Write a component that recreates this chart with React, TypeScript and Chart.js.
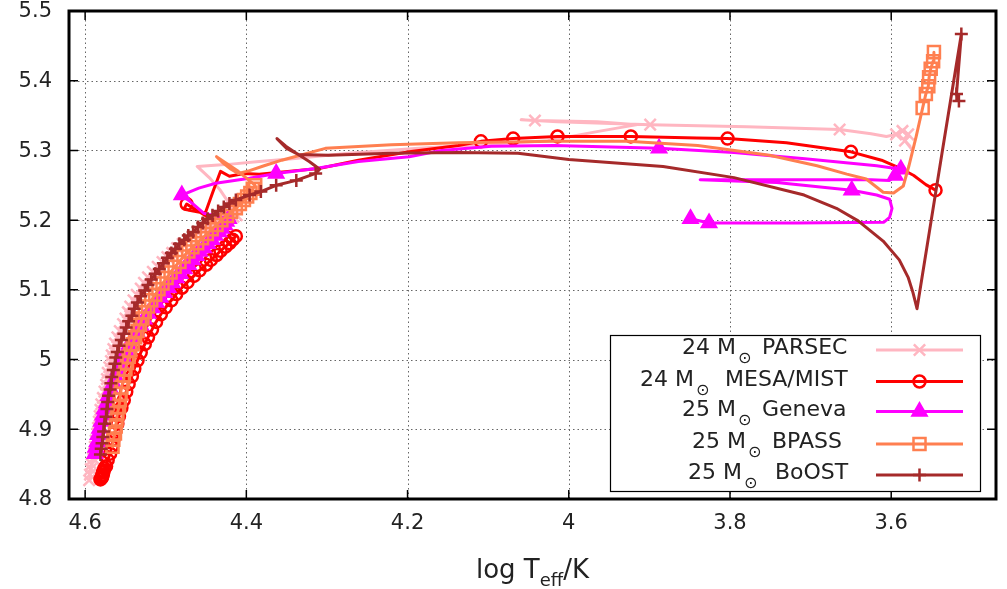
import React, { useEffect, useRef } from "react";
import { Chart, registerables } from "chart.js";

Chart.register(...registerables);

// ---------- data (log Teff / K , log L / Lsun) ----------
const parsecLogT = [4.595, 4.594, 4.593, 4.592, 4.590, 4.589, 4.588, 4.587, 4.585, 4.584, 4.583, 4.582, 4.581, 4.580, 4.578, 4.576, 4.574, 4.573, 4.572, 4.570, 4.568, 4.567, 4.565, 4.563, 4.560, 4.557, 4.553, 4.550, 4.547, 4.544, 4.540, 4.536, 4.531, 4.527, 4.522, 4.516, 4.510, 4.504, 4.498, 4.492, 4.486, 4.479, 4.472, 4.466, 4.459, 4.452, 4.445, 4.439, 4.432, 4.427, 4.421, 4.416, 4.412,
  4.423, 4.433, 4.446, 4.461, 4.422, 4.384, 4.343, 4.273, 4.186, 4.112, 4.026, 3.965, 3.915, 3.965, 4.042, 4.059, 4.014, 3.899, 3.779, 3.664, 3.625, 3.606, 3.594, 3.586, 3.579, 3.583, 3.574];
const parsecLogL = [4.827, 4.835, 4.843, 4.850, 4.858, 4.866, 4.875, 4.884, 4.894, 4.902, 4.911, 4.919, 4.928, 4.936, 4.945, 4.954, 4.964, 4.972, 4.981, 4.989, 4.998, 5.006, 5.015, 5.023, 5.032, 5.041, 5.051, 5.059, 5.068, 5.076, 5.085, 5.093, 5.102, 5.110, 5.118, 5.126, 5.133, 5.140, 5.147, 5.153, 5.160, 5.166, 5.172, 5.177, 5.182, 5.186, 5.190, 5.193, 5.197, 5.200, 5.203, 5.205, 5.207,
  5.227, 5.244, 5.261, 5.277, 5.280, 5.284, 5.288, 5.296, 5.303, 5.308, 5.314, 5.327, 5.337, 5.341, 5.343, 5.344, 5.341, 5.337, 5.334, 5.330, 5.324, 5.320, 5.323, 5.328, 5.323, 5.314, 5.301];
const parsecMsCount = 53;
const parsecMarks = [67, 70, 72, 75, 76, 77, 78];

const mesaLogT = [4.581, 4.580, 4.579, 4.579, 4.578, 4.578, 4.577, 4.576, 4.574, 4.572, 4.569, 4.567, 4.565, 4.563, 4.560, 4.558, 4.555, 4.552, 4.549, 4.546, 4.542, 4.539, 4.535, 4.531, 4.526, 4.522, 4.517, 4.512, 4.506, 4.500, 4.493, 4.487, 4.480, 4.473, 4.465, 4.458, 4.450, 4.444, 4.437, 4.432, 4.426, 4.421, 4.417, 4.413,
  4.428, 4.446, 4.464, 4.474, 4.477, 4.471, 4.451, 4.442, 4.432, 4.421, 4.403, 4.384, 4.310, 4.261, 4.198, 4.137, 4.109, 4.069, 4.014, 3.923, 3.841, 3.803, 3.730, 3.650, 3.612, 3.588, 3.572, 3.557, 3.545];
const mesaLogL = [4.828, 4.830, 4.831, 4.833, 4.835, 4.838, 4.840, 4.844, 4.847, 4.856, 4.865, 4.875, 4.885, 4.896, 4.908, 4.919, 4.931, 4.942, 4.954, 4.965, 4.976, 4.987, 4.999, 5.010, 5.022, 5.032, 5.043, 5.054, 5.065, 5.075, 5.085, 5.094, 5.103, 5.111, 5.120, 5.128, 5.136, 5.143, 5.150, 5.156, 5.162, 5.167, 5.172, 5.177,
  5.187, 5.203, 5.216, 5.223, 5.217, 5.214, 5.210, 5.239, 5.270, 5.263, 5.267, 5.266, 5.274, 5.286, 5.298, 5.307, 5.313, 5.317, 5.320, 5.320, 5.318, 5.317, 5.311, 5.298, 5.286, 5.274, 5.264, 5.251, 5.243];
const mesaMsCount = 44;
const mesaMarks = [47, 60, 61, 62, 63, 65, 67, 72];

const genevaLogT = [4.588, 4.587, 4.585, 4.584, 4.582, 4.580, 4.578, 4.576, 4.573, 4.571, 4.568, 4.565, 4.562, 4.559, 4.556, 4.553, 4.549, 4.545, 4.540, 4.536, 4.531, 4.527, 4.522, 4.517, 4.512, 4.507, 4.502, 4.497, 4.492, 4.487, 4.482, 4.477, 4.472, 4.467, 4.462, 4.458, 4.453, 4.448, 4.443, 4.439, 4.434, 4.431, 4.427, 4.425, 4.422,
  4.437, 4.453, 4.467, 4.480, 4.459, 4.438, 4.396, 4.363, 4.314, 4.261, 4.198, 4.158, 4.096, 4.018, 3.888, 3.795, 3.707, 3.618, 3.588, 3.595, 3.602, 3.625, 3.730, 3.837, 3.742, 3.649, 3.618, 3.602, 3.599, 3.602, 3.609, 3.718, 3.826, 3.849];
const genevaLogL = [4.865, 4.874, 4.882, 4.892, 4.901, 4.911, 4.920, 4.929, 4.938, 4.948, 4.957, 4.966, 4.975, 4.985, 4.994, 5.003, 5.012, 5.022, 5.031, 5.040, 5.049, 5.058, 5.066, 5.074, 5.082, 5.089, 5.096, 5.103, 5.110, 5.117, 5.123, 5.130, 5.136, 5.143, 5.149, 5.155, 5.160, 5.166, 5.172, 5.178, 5.183, 5.188, 5.193, 5.198, 5.202,
  5.206, 5.210, 5.224, 5.236, 5.246, 5.253, 5.260, 5.267, 5.274, 5.284, 5.291, 5.300, 5.306, 5.307, 5.303, 5.297, 5.288, 5.278, 5.273, 5.264, 5.257, 5.258, 5.258, 5.258, 5.254, 5.243, 5.236, 5.230, 5.217, 5.204, 5.197, 5.196, 5.196, 5.202];
const genevaMsCount = 45;
const genevaMarks = [48, 52, 59, 63, 64, 70, 77, 78];

const bpassLogT = [4.566, 4.565, 4.563, 4.562, 4.561, 4.560, 4.558, 4.557, 4.556, 4.555, 4.553, 4.552, 4.550, 4.548, 4.546, 4.544, 4.541, 4.538, 4.535, 4.532, 4.529, 4.526, 4.522, 4.518, 4.513, 4.509, 4.504, 4.499, 4.494, 4.489, 4.483, 4.478, 4.472, 4.467, 4.461, 4.455, 4.449, 4.443, 4.437, 4.431, 4.424, 4.419, 4.413, 4.408, 4.403, 4.399, 4.395, 4.392, 4.389,
  4.410, 4.424, 4.437, 4.428, 4.419, 4.410, 4.396, 4.378, 4.356, 4.302, 4.220, 4.137, 4.018, 3.927, 3.840, 3.751, 3.692, 3.655, 3.631, 3.610, 3.597, 3.585, 3.578, 3.569, 3.561, 3.557, 3.554, 3.553, 3.551, 3.548, 3.547];
const bpassLogL = [4.875, 4.885, 4.894, 4.904, 4.914, 4.923, 4.932, 4.942, 4.951, 4.960, 4.968, 4.977, 4.986, 4.995, 5.004, 5.013, 5.022, 5.032, 5.041, 5.050, 5.059, 5.068, 5.076, 5.085, 5.093, 5.101, 5.109, 5.117, 5.125, 5.133, 5.140, 5.148, 5.155, 5.161, 5.167, 5.174, 5.180, 5.187, 5.193, 5.200, 5.206, 5.212, 5.217, 5.223, 5.229, 5.234, 5.239, 5.245, 5.250,
  5.270, 5.281, 5.291, 5.281, 5.273, 5.267, 5.271, 5.278, 5.286, 5.303, 5.308, 5.311, 5.313, 5.313, 5.307, 5.293, 5.278, 5.266, 5.259, 5.240, 5.239, 5.249, 5.278, 5.320, 5.361, 5.381, 5.392, 5.405, 5.417, 5.428, 5.441];
const bpassMsCount = 49;
const bpassMarks = [73, 74, 75, 76, 77, 78, 79];

const boostLogT = [4.581, 4.580, 4.579, 4.578, 4.577, 4.576, 4.574, 4.573, 4.572, 4.571, 4.569, 4.568, 4.567, 4.565, 4.563, 4.562, 4.560, 4.558, 4.555, 4.552, 4.549, 4.546, 4.542, 4.539, 4.535, 4.531, 4.526, 4.522, 4.518, 4.513, 4.508, 4.503, 4.498, 4.493, 4.488, 4.483, 4.477, 4.472, 4.466, 4.460, 4.454, 4.448, 4.442, 4.435, 4.428, 4.421, 4.413, 4.396, 4.382, 4.363, 4.338, 4.314,
  4.309, 4.322, 4.338, 4.351, 4.362, 4.350, 4.335, 4.298, 4.220, 4.137, 4.063, 4.000, 3.883, 3.795, 3.708, 3.668, 3.641, 3.610, 3.590, 3.579, 3.573, 3.568, 3.537, 3.513, 3.519, 3.516];
const boostLogL = [4.864, 4.872, 4.880, 4.889, 4.897, 4.908, 4.918, 4.929, 4.939, 4.948, 4.957, 4.966, 4.975, 4.985, 4.994, 5.003, 5.011, 5.020, 5.028, 5.037, 5.046, 5.055, 5.063, 5.073, 5.082, 5.091, 5.099, 5.107, 5.115, 5.123, 5.130, 5.138, 5.146, 5.153, 5.159, 5.166, 5.172, 5.178, 5.183, 5.190, 5.196, 5.202, 5.207, 5.213, 5.219, 5.224, 5.229, 5.236, 5.241, 5.250, 5.257, 5.267,
  5.273, 5.284, 5.296, 5.306, 5.317, 5.303, 5.294, 5.293, 5.296, 5.297, 5.296, 5.287, 5.277, 5.261, 5.236, 5.217, 5.199, 5.170, 5.143, 5.118, 5.096, 5.073, 5.296, 5.467, 5.381, 5.371];
const boostMsCount = 52;
const boostMarks = [75, 76, 77];

const xTicks = [4.6, 4.4, 4.2, 4.0, 3.8, 3.6];
const xTickLabels = ["4.6", "4.4", "4.2", "4", "3.8", "3.6"];
const yTicks = [4.8, 4.9, 5.0, 5.1, 5.2, 5.3, 5.4, 5.5];
const yTickLabels = ["4.8", "4.9", "5", "5.1", "5.2", "5.3", "5.4", "5.5"];

const legendMass = ["24", "24", "25", "25", "25"];
const legendNames = ["PARSEC", "MESA/MIST", "Geneva", "BPASS", "BoOST"];

// ---------- styling ----------
type Track = {
  name: string; T: number[]; L: number[]; ms: number; marks: number[];
  color: string; style: string; radius: number; filled: boolean;
};

const trackList: Track[] = [
  { name: "PARSEC", T: parsecLogT, L: parsecLogL, ms: parsecMsCount, marks: parsecMarks, color: "#ffb6c1", style: "crossRot", radius: 8, filled: false },
  { name: "MESA/MIST", T: mesaLogT, L: mesaLogL, ms: mesaMsCount, marks: mesaMarks, color: "#ff0000", style: "circle", radius: 6, filled: false },
  { name: "Geneva", T: genevaLogT, L: genevaLogL, ms: genevaMsCount, marks: genevaMarks, color: "#ff00ff", style: "triangle", radius: 8, filled: true },
  { name: "BPASS", T: bpassLogT, L: bpassLogL, ms: bpassMsCount, marks: bpassMarks, color: "#ff7f50", style: "rect", radius: 8.5, filled: false },
  { name: "BoOST", T: boostLogT, L: boostLogL, ms: boostMsCount, marks: boostMarks, color: "#a52a2a", style: "cross", radius: 6.5, filled: false },
];

const FONT = '"DejaVu Sans", "Liberation Sans", sans-serif';

function drawMarker(ctx: CanvasRenderingContext2D, style: string, x: number, y: number, r: number, color: string, filled: boolean) {
  ctx.save();
  ctx.strokeStyle = color;
  ctx.fillStyle = color;
  ctx.lineWidth = 2.5;
  ctx.setLineDash([]);
  ctx.beginPath();
  if (style === "cross") {
    ctx.moveTo(x - r, y); ctx.lineTo(x + r, y);
    ctx.moveTo(x, y - r); ctx.lineTo(x, y + r);
    ctx.stroke();
  } else if (style === "crossRot") {
    const d = r * Math.SQRT1_2;
    ctx.moveTo(x - d, y - d); ctx.lineTo(x + d, y + d);
    ctx.moveTo(x - d, y + d); ctx.lineTo(x + d, y - d);
    ctx.stroke();
  } else if (style === "circle") {
    ctx.arc(x, y, r, 0, Math.PI * 2);
    if (filled) ctx.fill();
    ctx.stroke();
  } else if (style === "triangle") {
    ctx.moveTo(x, y - r);
    ctx.lineTo(x + r * 0.866, y + r * 0.5);
    ctx.lineTo(x - r * 0.866, y + r * 0.5);
    ctx.closePath();
    if (filled) ctx.fill();
    ctx.stroke();
  } else {
    const h = r * Math.SQRT1_2;
    ctx.rect(x - h, y - h, 2 * h, 2 * h);
    if (filled) ctx.fill();
    ctx.stroke();
  }
  ctx.restore();
}

const framePlugin = {
  id: "gnuFrame",
  beforeDraw(chart: any) {
    const ctx = chart.ctx as CanvasRenderingContext2D;
    ctx.save();
    ctx.fillStyle = "#ffffff";
    ctx.fillRect(0, 0, chart.width, chart.height);
    ctx.restore();
  },
  beforeDatasetsDraw(chart: any) {
    const ctx = chart.ctx as CanvasRenderingContext2D;
    const a = chart.chartArea;
    const xs = chart.scales.x;
    const ys = chart.scales.y;
    ctx.save();
    ctx.strokeStyle = "#666";
    ctx.lineWidth = 1;
    ctx.setLineDash([1.5, 3]);
    xTicks.forEach((v) => {
      const px = Math.round(xs.getPixelForValue(v)) + 0.5;
      ctx.beginPath(); ctx.moveTo(px, a.top); ctx.lineTo(px, a.bottom); ctx.stroke();
    });
    yTicks.forEach((v) => {
      const py = Math.round(ys.getPixelForValue(v)) + 0.5;
      ctx.beginPath(); ctx.moveTo(a.left, py); ctx.lineTo(a.right, py); ctx.stroke();
    });
    ctx.restore();
  },
  afterDatasetsDraw(chart: any) {
    const ctx = chart.ctx as CanvasRenderingContext2D;
    const a = chart.chartArea;
    const xs = chart.scales.x;
    const ys = chart.scales.y;
    ctx.save();
    ctx.setLineDash([]);
    // tick marks (inward, mirrored)
    ctx.strokeStyle = "#000";
    ctx.lineWidth = 1.5;
    const tl = 9;
    xTicks.forEach((v) => {
      const px = xs.getPixelForValue(v);
      ctx.beginPath();
      ctx.moveTo(px, a.bottom); ctx.lineTo(px, a.bottom - tl);
      ctx.moveTo(px, a.top); ctx.lineTo(px, a.top + tl);
      ctx.stroke();
    });
    yTicks.forEach((v) => {
      const py = ys.getPixelForValue(v);
      ctx.beginPath();
      ctx.moveTo(a.left, py); ctx.lineTo(a.left + tl, py);
      ctx.moveTo(a.right, py); ctx.lineTo(a.right - tl, py);
      ctx.stroke();
    });
    // frame
    ctx.lineWidth = 3;
    ctx.strokeRect(a.left, a.top, a.right - a.left, a.bottom - a.top);

    // tick labels
    ctx.fillStyle = "#222";
    ctx.font = `21px ${FONT}`;
    ctx.textAlign = "center";
    ctx.textBaseline = "middle";
    xTicks.forEach((v, i) => {
      ctx.fillText(xTickLabels[i], xs.getPixelForValue(v), 524);
    });
    ctx.textAlign = "right";
    yTicks.forEach((v, i) => {
      ctx.fillText(yTickLabels[i], 52, ys.getPixelForValue(v) + 1);
    });

    // axis title: log T_eff / K
    ctx.textBaseline = "alphabetic";
    ctx.textAlign = "left";
    const big = `26px ${FONT}`;
    const small = `18px ${FONT}`;
    ctx.font = big;
    const w1 = ctx.measureText("log T").width;
    const w3 = ctx.measureText("/K").width;
    ctx.font = small;
    const w2 = ctx.measureText("eff").width;
    const cx = (a.left + a.right) / 2;
    let sx = cx - (w1 + w2 + w3) / 2;
    ctx.font = big;
    ctx.fillText("log T", sx, 578);
    sx += w1;
    ctx.font = small;
    ctx.fillText("eff", sx, 586);
    sx += w2;
    ctx.font = big;
    ctx.fillText("/K", sx, 578);

    // legend
    const bx = 610, by = 335, bw = 370, bh = 156;
    ctx.fillStyle = "#fff";
    ctx.fillRect(bx, by, bw, bh);
    ctx.strokeStyle = "#000";
    ctx.lineWidth = 1.2;
    ctx.strokeRect(bx + 0.5, by + 0.5, bw, bh);
    const rowY = [350, 381.5, 411.5, 444, 475];
    const massLeft = [682, 640, 682, 692, 688];
    const nameLeft = [762, 725, 762, 772, 775];
    legendNames.forEach((nm, i) => {
      const tr = trackList.find((t) => t.name === nm)!;
      const y = rowY[i];
      ctx.fillStyle = "#222";
      ctx.textBaseline = "middle";
      ctx.textAlign = "left";
      ctx.font = `22px ${FONT}`;
      const mTxt = `${legendMass[i]} M`;
      ctx.fillText(mTxt, massLeft[i], y - 1.5);
      const mw = ctx.measureText(mTxt).width;
      ctx.font = `16px ${FONT}`;
      ctx.fillText("\u2299", massLeft[i] + mw + 2, y + 9);
      ctx.font = `22px ${FONT}`;
      ctx.fillText(nm, nameLeft[i], y - 1.5);
      // sample line
      ctx.strokeStyle = tr.color;
      ctx.lineWidth = 3;
      ctx.beginPath();
      ctx.moveTo(876, y); ctx.lineTo(963, y);
      ctx.stroke();
      drawMarker(ctx, tr.style, 919.5, y, tr.radius, tr.color, tr.filled);
    });
    ctx.restore();
  },
};

export default function App() {
  const canvasRef = useRef<HTMLCanvasElement | null>(null);

  useEffect(() => {
    if (!canvasRef.current) return;
    // draw order: first dataset ends up on top
    const order = ["BoOST", "BPASS", "Geneva", "MESA/MIST", "PARSEC"];
    const datasets = order.map((nm) => {
      const tr = trackList.find((t) => t.name === nm)!;
      const markSet = new Set<number>(tr.marks);
      for (let i = 0; i < tr.ms; i++) markSet.add(i);
      return {
        label: tr.name,
        data: tr.T.map((t, i) => ({ x: t, y: tr.L[i] })),
        showLine: true,
        borderColor: tr.color,
        backgroundColor: tr.color,
        borderWidth: 3,
        borderJoinStyle: "round" as const,
        borderCapStyle: "round" as const,
        tension: 0,
        pointStyle: tr.style as any,
        pointRadius: (c: any) => (markSet.has(c.dataIndex) ? tr.radius : 0),
        pointHoverRadius: 0,
        pointBorderColor: tr.color,
        pointBackgroundColor: tr.filled ? tr.color : "rgba(0,0,0,0)",
        pointBorderWidth: 2.5,
      };
    });

    const chart = new Chart(canvasRef.current, {
      type: "scatter",
      data: { datasets },
      options: {
        animation: false,
        responsive: false,
        maintainAspectRatio: false,
        devicePixelRatio: 1,
        events: [],
        layout: { padding: { left: 69, right: 7, top: 6, bottom: 90 } },
        scales: {
          x: { type: "linear", display: false, min: 3.47, max: 4.62, reverse: true },
          y: { type: "linear", display: false, min: 4.8, max: 5.5 },
        },
        plugins: { legend: { display: false }, tooltip: { enabled: false } },
      },
      plugins: [framePlugin],
    });
    return () => chart.destroy();
  }, []);

  return (
    <div style={{ position: "absolute", left: 0, top: 0, width: 1007, height: 589, background: "#fff" }}>
      <canvas ref={canvasRef} width={1007} height={589} style={{ display: "block", width: 1007, height: 589 }} />
    </div>
  );
}
